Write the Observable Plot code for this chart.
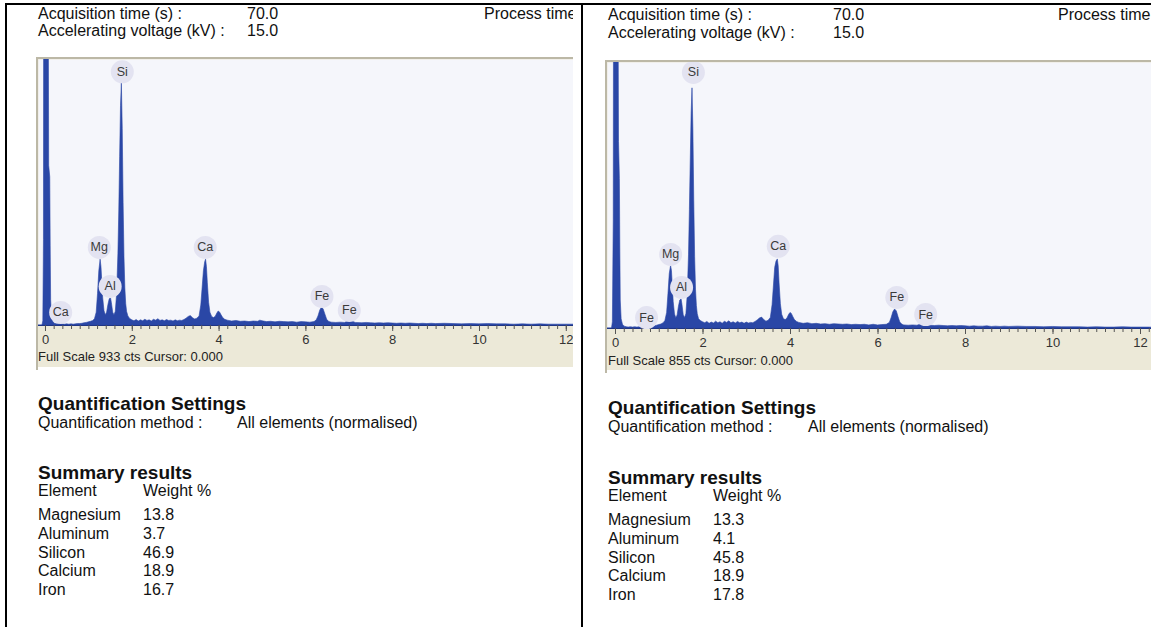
<!DOCTYPE html>
<html><head><meta charset="utf-8">
<script src="https://cdn.jsdelivr.net/npm/d3@7"></script>
<script src="https://cdn.jsdelivr.net/npm/@observablehq/plot@0.6"></script>
<style>
html,body{margin:0;padding:0;background:#fff;}
body{width:1151px;height:627px;overflow:hidden;position:relative;font-family:"Liberation Sans",Arial,sans-serif;color:#111;}
.abs{position:absolute;white-space:nowrap;}
.panel{position:absolute;top:0;height:627px;overflow:hidden;}
.hdr{font-size:16px;line-height:18px;}
.bold{font-size:19px;line-height:22px;font-weight:bold;}
.frame{position:absolute;border-left:2px solid #bcb8a6;border-top:2px solid #bcb8a6;width:600px;height:311px;overflow:hidden;}
.fs{font-size:13px;line-height:15px;color:#222;}
.bar{position:absolute;background:#000;}
</style></head>
<body>
<script>
// ---------------- data ----------------
const elements = ["Magnesium", "Aluminum", "Silicon", "Calcium", "Iron"];
const weightA = [13.8, 3.7, 46.9, 18.9, 16.7];
const weightB = [13.3, 4.1, 45.8, 18.9, 17.8];
const fullScaleA = 933;
const fullScaleB = 855;
const xTickValues = [0, 2, 4, 6, 8, 10, 12];
const acquisitionTime = "70.0";
const acceleratingVoltage = "15.0";

const peakLabelsA = ["Si", "Mg", "Al", "Ca", "Ca", "Fe", "Fe"];
const peakEnergyA = [1.77, 1.24, 1.49, 3.68, 0.35, 6.37, 7.0];
const peakLabelCountsA = [890, 274, 137, 274, 46, 102, 53];

const peakLabelsB = ["Si", "Mg", "Al", "Ca", "Fe", "Fe", "Fe"];
const peakEnergyB = [1.78, 1.26, 1.51, 3.72, 0.71, 6.43, 7.09];
const peakLabelCountsB = [823, 238, 132, 264, 35, 100, 45];

// spectrum A: [energy keV, counts]
const spectrumA = [[-0.16,0],[-0.07,0],[-0.05,15],[-0.035,300],[-0.03,1500],[0.07,1500],[0.085,560],[0.11,520],[0.12,280],[0.13,90],[0.15,30],[0.18,12],[0.22,6],[0.26,4],
[0.3,4],[0.35,6],[0.4,4],[0.45,3],[0.5,4],[0.55,3],[0.6,4],[0.65,3],[0.7,4],[0.75,5],[0.8,5],[0.85,6],[0.9,8],[0.95,9],[1.0,11],[1.05,13],[1.1,16],[1.14,22],[1.18,45],[1.21,110],[1.24,190],[1.27,231],[1.29,205],[1.31,150],[1.33,95],[1.36,50],[1.39,36],[1.42,45],[1.45,72],[1.48,92],[1.51,96],[1.53,78],[1.56,45],[1.59,36],[1.62,48],[1.65,110],[1.68,250],[1.70,400],[1.72,590],[1.74,770],[1.76,849],[1.78,690],[1.80,430],[1.82,240],[1.84,130],[1.86,75],[1.88,48],[1.91,32],[1.95,23],[2.0,18],
[2.05,15],[2.1,19],[2.15,14],[2.2,18],[2.25,15],[2.3,20],[2.35,16],[2.4,18],[2.45,14],[2.5,20],[2.55,17],[2.6,22],[2.65,16],[2.7,18],[2.75,15],[2.8,19],[2.85,16],[2.9,17],[2.95,14],[3.0,18],[3.05,15],[3.1,17],[3.15,16],[3.2,19],[3.25,24],[3.3,30],[3.35,33],[3.4,25],[3.45,21],[3.5,24],[3.55,32],[3.59,70],[3.62,130],[3.65,190],[3.68,222],[3.70,231],[3.72,205],[3.74,150],[3.77,80],[3.80,45],[3.84,30],[3.88,26],[3.92,30],[3.96,42],[3.99,49],[4.02,46],[4.05,38],[4.09,27],[4.14,20],[4.2,17],[4.3,14],[4.4,16],[4.5,13],[4.6,14],[4.7,12],[4.8,14],[4.9,13],[4.95,17],[5.0,15],[5.1,12],[5.2,13],[5.3,11],[5.4,13],[5.5,12],[5.6,11],[5.7,12],[5.8,10],[5.9,12],[6.0,11],[6.1,10],[6.2,12],[6.25,18],[6.29,32],[6.33,52],[6.37,63],[6.41,56],[6.45,38],[6.49,20],[6.54,12],[6.6,10],[6.7,9],[6.8,10],[6.9,9],[6.95,12],[7.0,16],[7.04,17],[7.08,13],[7.15,9],[7.3,8],[7.4,9],[7.5,8],[7.6,7],[7.7,8],[7.8,7],[7.9,8],[8.0,7],[8.1,6],[8.2,7],[8.3,6],[8.4,7],[8.5,6],[8.6,5],[8.7,6],[8.8,5],[8.9,6],[9.0,5],[9.2,6],[9.4,5],[9.6,4],[9.8,5],[10.0,4],[10.2,5],[10.4,4],[10.6,4],[10.8,3],[11.0,4],[11.2,3],[11.4,4],[11.6,3],[11.8,3],[12.0,3],[12.2,3],[12.4,2],[12.75,2]];

// spectrum B: [energy keV, counts]
const spectrumB = [[-0.19,0],[-0.08,0],[-0.06,20],[-0.04,350],[-0.03,1500],[0.06,1500],[0.08,600],[0.10,480],[0.11,260],[0.12,90],[0.14,30],[0.17,12],[0.21,6],[0.26,4],
[0.3,3],[0.35,4],[0.4,3],[0.45,4],[0.5,3],[0.55,4],[0.6,3],[0.65,5],[0.7,6],[0.75,5],[0.8,4],[0.85,5],[0.9,7],[0.95,9],[1.0,11],[1.05,13],[1.1,17],[1.14,24],[1.18,50],[1.21,110],[1.24,175],[1.27,201],[1.29,185],[1.31,135],[1.33,85],[1.36,45],[1.39,33],[1.42,42],[1.45,70],[1.48,90],[1.51,94],[1.53,76],[1.56,42],[1.59,34],[1.62,46],[1.65,105],[1.68,235],[1.70,380],[1.72,540],[1.74,690],[1.76,772],[1.78,640],[1.80,410],[1.82,230],[1.84,125],[1.86,72],[1.88,46],[1.91,30],[1.95,24],[2.0,20],
[2.05,17],[2.1,21],[2.15,15],[2.2,19],[2.25,16],[2.3,22],[2.35,17],[2.4,20],[2.45,15],[2.5,22],[2.55,18],[2.6,23],[2.65,17],[2.7,20],[2.75,16],[2.8,21],[2.85,17],[2.9,19],[2.95,15],[3.0,19],[3.05,16],[3.1,18],[3.15,17],[3.2,21],[3.25,26],[3.3,32],[3.35,35],[3.4,27],[3.45,22],[3.5,25],[3.55,34],[3.59,75],[3.62,135],[3.65,195],[3.68,215],[3.71,222],[3.73,200],[3.75,145],[3.78,78],[3.81,44],[3.85,30],[3.89,27],[3.93,32],[3.97,44],[4.0,50],[4.03,47],[4.06,38],[4.10,27],[4.15,21],[4.2,18],[4.3,15],[4.4,17],[4.5,14],[4.6,15],[4.7,13],[4.8,14],[4.9,12],[5.0,14],[5.1,13],[5.2,12],[5.3,13],[5.4,11],[5.5,12],[5.6,11],[5.7,12],[5.8,10],[5.9,12],[6.0,10],[6.1,11],[6.2,12],[6.27,18],[6.31,33],[6.35,52],[6.39,61],[6.43,55],[6.47,36],[6.51,19],[6.56,12],[6.6,10],[6.7,9],[6.8,10],[6.9,9],[6.95,11],[7.0,14],[7.05,16],[7.09,15],[7.14,11],[7.2,9],[7.3,8],[7.4,9],[7.5,8],[7.6,7],[7.7,8],[7.8,7],[7.9,8],[8.0,7],[8.1,6],[8.2,7],[8.3,6],[8.4,6],[8.5,7],[8.6,5],[8.7,6],[8.8,5],[8.9,6],[9.0,5],[9.2,6],[9.4,5],[9.6,5],[9.8,4],[10.0,5],[10.2,4],[10.4,4],[10.6,4],[10.8,3],[11.0,4],[11.2,3],[11.4,3],[11.6,4],[11.8,3],[12.0,3],[12.2,3],[12.4,2],[12.62,2]];

// ---------------- drawing ----------------
const BLUE = "#2a47a6";

function spectrumPlot(spec, labels, energies, counts, fullScale, xDomain) {
  const lab = labels.map((t, i) => ({t, e: energies[i], c: counts[i]}));
  const minor = d3.range(0, 12.61, 0.2);
  return Plot.plot({
    width: 560, height: 308,
    marginTop: 0, marginLeft: 0, marginRight: 0, marginBottom: 42,
    style: {background: "#ece9d8", fontFamily: '"Liberation Sans", Arial, sans-serif', fontSize: "13px", color: "#333", overflow: "hidden"},
    x: {domain: xDomain, label: null},
    y: {domain: [0, fullScale], axis: null, label: null},
    marks: [
      Plot.frame({fill: "#f5f6fb", stroke: null}),
      Plot.areaY(spec, {x: d => d[0], y: d => d[1], fill: BLUE, stroke: BLUE, strokeWidth: 0.6, clip: true}),
      Plot.ruleY([0], {stroke: "#1f3585", strokeWidth: 1}),
      Plot.axisX(minor, {tickSize: 4, tickFormat: () => "", stroke: "#555", strokeWidth: 1, label: null}),
      Plot.axisX(xTickValues, {tickSize: 6, tickPadding: 3, stroke: "#555", fill: "#333", fontSize: 13, label: null}),
      Plot.dot(lab, {x: "e", y: "c", r: 11.5, fill: "#e3e3f1", stroke: null}),
      Plot.text(lab, {x: "e", y: "c", text: "t", fill: "#3a3a3a", fontSize: 12.5})
    ]
  });
}

function div(cls, text, left, top, parent) {
  const d = document.createElement("div");
  d.className = "abs " + cls;
  d.textContent = text;
  d.style.left = left + "px";
  d.style.top = top + "px";
  parent.appendChild(d);
  return d;
}

function buildPanel(cfg) {
  const p = document.createElement("div");
  p.className = "panel";
  p.style.left = cfg.left + "px";
  p.style.width = cfg.width + "px";
  document.body.appendChild(p);
  const X = x => x - cfg.left;
  div("hdr", "Acquisition time (s) :", X(cfg.tx), cfg.h1, p);
  div("hdr", acquisitionTime, X(cfg.vx), cfg.h1, p);
  div("hdr", "Process time", X(cfg.px), cfg.h1, p);
  div("hdr", "Accelerating voltage (kV) :", X(cfg.tx), cfg.h2, p);
  div("hdr", acceleratingVoltage, X(cfg.vx), cfg.h2, p);
  const f = document.createElement("div");
  f.className = "frame";
  f.style.left = X(cfg.fx) + "px";
  f.style.top = cfg.fy + "px";
  f.appendChild(spectrumPlot(cfg.spec, cfg.labels, cfg.energies, cfg.counts, cfg.fullScale, cfg.xDomain));
  p.appendChild(f);
  div("fs", `Full Scale ${cfg.fullScale} cts Cursor: 0.000`, X(cfg.tx), cfg.fsy, p);
  div("bold", "Quantification Settings", X(cfg.tx), cfg.q1, p);
  div("hdr", "Quantification method :", X(cfg.tx), cfg.q1 + 21, p);
  div("hdr", "All elements (normalised)", X(cfg.mx), cfg.q1 + 21, p);
  div("bold", "Summary results", X(cfg.tx), cfg.s1, p);
  div("hdr", "Element", X(cfg.tx), cfg.s1 + 20, p);
  div("hdr", "Weight %", X(cfg.wx), cfg.s1 + 20, p);
  elements.forEach((el, i) => {
    const t = cfg.s1 + 44 + i * 18.75;
    div("hdr", el, X(cfg.tx), t, p);
    div("hdr", cfg.weights[i].toFixed(1), X(cfg.wx), t, p);
  });
}

buildPanel({left: 0, width: 573, tx: 38, vx: 247, px: 484, h1: 5, h2: 22,
  fx: 36, fy: 57, xDomain: [-0.161, 12.742], spec: spectrumA,
  labels: peakLabelsA, energies: peakEnergyA, counts: peakLabelCountsA, fullScale: fullScaleA,
  fsy: 349, q1: 393, mx: 237, s1: 462, wx: 143, weights: weightA});

buildPanel({left: 584, width: 567, tx: 608, vx: 833, px: 1058, h1: 6, h2: 24,
  fx: 605, fy: 60, xDomain: [-0.183, 12.617], spec: spectrumB,
  labels: peakLabelsB, energies: peakEnergyB, counts: peakLabelCountsB, fullScale: fullScaleB,
  fsy: 353, q1: 397, mx: 808, s1: 467, wx: 713, weights: weightB});

function bar(l, t, w, h) { const b = document.createElement("div"); b.className = "bar"; Object.assign(b.style, {left: l + "px", top: t + "px", width: w + "px", height: h + "px"}); document.body.appendChild(b); }
bar(5, 3, 1146, 2);
bar(5, 3, 2, 624);
bar(581, 3, 2, 624);
</script>
</body></html>
